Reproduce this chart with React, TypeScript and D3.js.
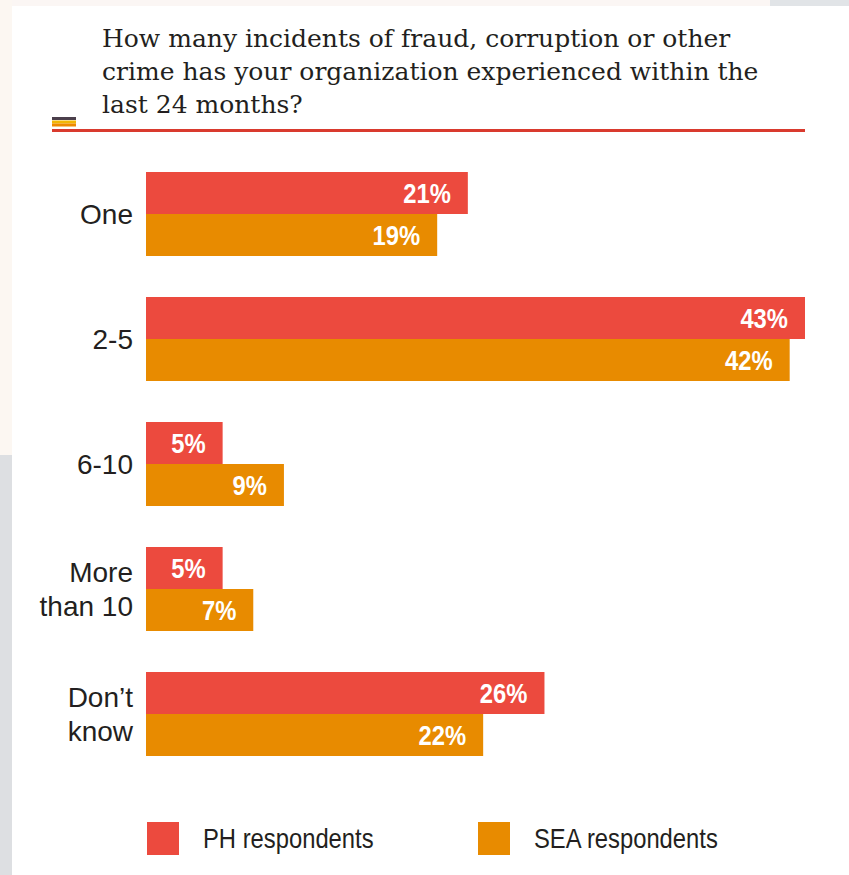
import React from "react";
import * as d3 from "d3";

const titleLines = [
  "How many incidents of fraud, corruption or other",
  "crime has your organization experienced within the",
  "last 24 months?",
];
const categories = ["One", "2-5", "6-10", "More than 10", "Don't know"];
const categoryLabelLines = [["One"], ["2-5"], ["6-10"], ["More", "than 10"], ["Don\u2019t", "know"]];
const seriesNames = ["PH respondents", "SEA respondents"];
const phValues = [21, 43, 5, 5, 26];
const seaValues = [19, 42, 9, 7, 22];
const seriesColors = ["#EC4A3E", "#E88B00"];

const W = 849;
const H = 875;

export default function App() {
  const x = d3.scaleLinear().domain([0, 43]).range([146, 805]);
  const y = d3.scaleBand<string>().domain(categories).range([172, 756]).paddingInner(41 / 125).paddingOuter(0);
  const inner = d3.scaleBand<string>().domain(seriesNames).range([0, y.bandwidth()]);
  const seriesValues = [phValues, seaValues];
  const narrowFont = "'Liberation Sans', Arial, Helvetica, sans-serif";
  const catFont = "'Liberation Sans', Arial, Helvetica, sans-serif";
  const condense = 0.85;

  return (
    <svg
      width={W}
      height={H}
      viewBox={`0 0 ${W} ${H}`}
      style={{ position: "absolute", left: 0, top: 0, display: "block" }}
    >
      <rect x={0} y={0} width={W} height={H} fill="#ffffff" />
      {/* page edge artifacts */}
      <rect x={0} y={0} width={770} height={6} fill="#FBF6F4" />
      <rect x={770} y={0} width={79} height={6} fill="#E1E4E7" />
      <rect x={0} y={0} width={12} height={455} fill="#FCF7F2" />
      <rect x={0} y={455} width={12} height={420} fill="#DDDFE2" />

      {/* title */}
      {titleLines.map((t, i) => (
        <text
          key={i}
          x={102}
          y={47 + i * 33}
          fontFamily="'DejaVu Serif', 'Liberation Serif', serif"
          fontSize={25}
          fill="#231F20"
        >
          {t}
        </text>
      ))}
      <rect x={52} y={117} width={24} height={3} fill="#4B3F4C" />
      <rect x={52} y={120.5} width={24} height={3} fill="#F2B705" />
      <rect x={52} y={123.5} width={24} height={3} fill="#EE8A00" />
      <rect x={52} y={129} width={753} height={3} fill="#D93A2E" />

      {/* bars */}
      {categories.map((c, ci) => (
        <g key={c} transform={`translate(0,${y(c)})`}>
          {seriesNames.map((s, si) => {
            const v = seriesValues[si][ci];
            const by = inner(s) as number;
            const bh = inner.bandwidth();
            return (
              <g key={s}>
                <rect x={x(0)} y={by} width={x(v) - x(0)} height={bh} fill={seriesColors[si]} />
                <text
                  transform={`translate(${x(v) - 17},${by + bh / 2 + 10}) scale(${condense},1)`}
                  textAnchor="end"
                  fontFamily={narrowFont}
                  fontWeight="bold"
                  fontSize={28}
                  fill="#FFFFFF"
                >
                  {v}%
                </text>
              </g>
            );
          })}
          {categoryLabelLines[ci].map((ln, li) => {
            const n = categoryLabelLines[ci].length;
            const cy = y.bandwidth() / 2 + (li - (n - 1) / 2) * 34;
            return (
              <text
                key={li}
                x={133}
                y={cy + 10}
                textAnchor="end"
                fontFamily={catFont}
                fontSize={28}
                fill="#231F20"
              >
                {ln}
              </text>
            );
          })}
        </g>
      ))}

      {/* legend */}
      {seriesNames.map((s, si) => {
        const lx = [147, 478][si];
        return (
          <g key={s}>
            <rect x={lx} y={822} width={32} height={33} fill={seriesColors[si]} />
            <text
              transform={`translate(${lx + 56},848) scale(${condense},1)`}
              fontFamily={narrowFont}
              fontSize={28}
              fill="#231F20"
            >
              {s}
            </text>
          </g>
        );
      })}
    </svg>
  );
}
